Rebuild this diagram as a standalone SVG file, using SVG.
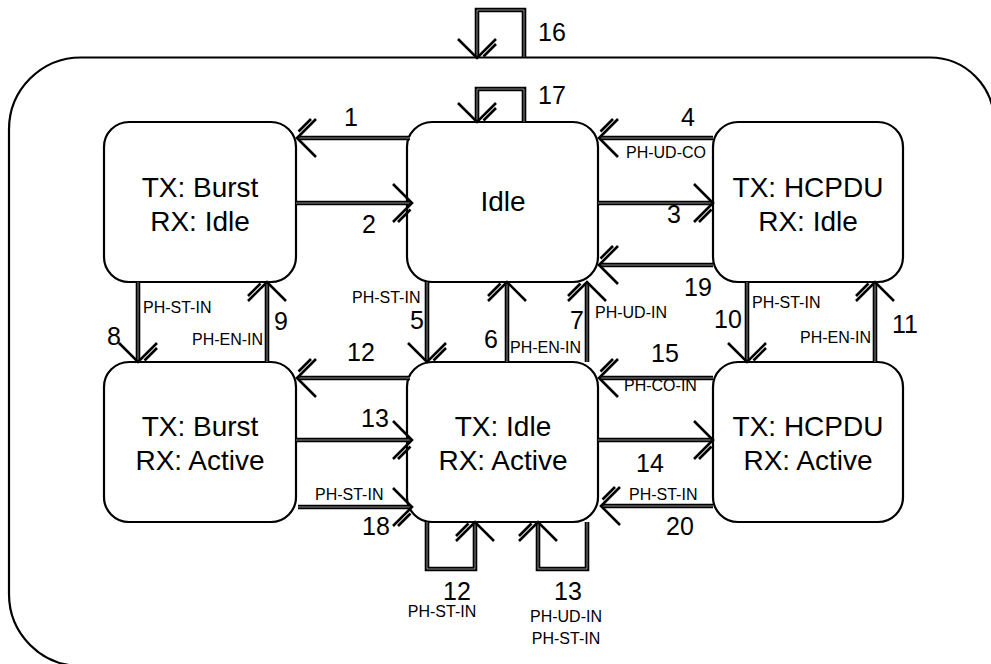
<svg xmlns="http://www.w3.org/2000/svg" xmlns:xlink="http://www.w3.org/1999/xlink" width="991" height="664" viewBox="0 0 991 664" style="overflow:hidden">
<style>
.frame{fill:none;stroke:#000;stroke-width:2.2}
.node{fill:#fff;stroke:#000;stroke-width:2.2}
.nt{font-family:"Liberation Sans",Arial,sans-serif;font-size:28px;text-anchor:middle;fill:#000}
.num{font-family:"Liberation Sans",Arial,sans-serif;font-size:25px;fill:#000}
.lbl{font-family:"Liberation Sans",Arial,sans-serif;font-size:16px;fill:#000}
.mid{text-anchor:middle}
.cb{fill:none;stroke:#000;stroke-width:4.6;stroke-linejoin:miter;stroke-linecap:butt}
.cw{fill:none;stroke:#fff;stroke-opacity:0.6;stroke-width:0.9;stroke-linejoin:miter;stroke-linecap:butt}
.ahd{fill:none;stroke:#000;stroke-width:2.6;stroke-linecap:butt;stroke-linejoin:miter}
</style>
<defs>
<clipPath id="vp"><rect x="0" y="0" width="991" height="664"/></clipPath>
<g id="ah"><path d="M-19,-19 L0,0 L-19,19"/><path d="M-1.5,6.5 L-14,19"/></g>
<g id="ahm"><path d="M-19,-19 L0,0 L-19,19"/><path d="M-1.5,-6.5 L-14,-19"/></g>
<path id="p1" d="M410,138 H299"/>
<path id="p2" d="M296,203 H410"/>
<path id="p4" d="M713,138 H601"/>
<path id="p3" d="M598,203 H711"/>
<path id="p19" d="M713,265 H601"/>
<path id="p8" d="M138,282 V360"/>
<path id="p9" d="M267,362 V284"/>
<path id="p5" d="M427,282 V360"/>
<path id="p6" d="M507,362 V284"/>
<path id="p7" d="M587,362 V284"/>
<path id="p10" d="M747,282 V360"/>
<path id="p11" d="M875,362 V284"/>
<path id="p12" d="M410,378 H299"/>
<path id="p13" d="M296,440 H410"/>
<path id="p18" d="M298,507 H410"/>
<path id="p15" d="M713,378 H601"/>
<path id="p14" d="M598,440 H711"/>
<path id="p20" d="M713,506 H603"/>
<path id="p16" d="M524,57 V10 H477 V56"/>
<path id="p17" d="M524,122 V89 H477 V120"/>
<path id="pL12" d="M427,522 V569 H475 V524"/>
<path id="pL13" d="M587,522 V569 H538 V524"/>
</defs>

<path class="frame" clip-path="url(#vp)" d="M1100,666 H81 A72,72 0 0 1 9,594 V129.5 A72,72 0 0 1 81,57.5 H930 A64,64 0 0 1 994,121.5 V700"/>

<g id="n-burst-idle"><rect class="node" x="104" y="122" width="192" height="160" rx="25"/>
<text class="nt" x="200" y="197">TX: Burst</text><text class="nt" x="200" y="231">RX: Idle</text></g>
<g id="n-idle"><rect class="node" x="407" y="122" width="191" height="160" rx="25"/>
<text class="nt" x="503" y="211">Idle</text></g>
<g id="n-hcpdu-idle"><rect class="node" x="713" y="122" width="190" height="160" rx="25"/>
<text class="nt" x="808" y="197">TX: HCPDU</text><text class="nt" x="808" y="231">RX: Idle</text></g>
<g id="n-burst-active"><rect class="node" x="104" y="362" width="192" height="160" rx="25"/>
<text class="nt" x="200" y="436">TX: Burst</text><text class="nt" x="200" y="470">RX: Active</text></g>
<g id="n-idle-active"><rect class="node" x="407" y="362" width="191" height="160" rx="25"/>
<text class="nt" x="503" y="436">TX: Idle</text><text class="nt" x="503" y="470">RX: Active</text></g>
<g id="n-hcpdu-active"><rect class="node" x="713" y="362" width="190" height="160" rx="25"/>
<text class="nt" x="808" y="436">TX: HCPDU</text><text class="nt" x="808" y="470">RX: Active</text></g>

<g id="connectors">
<g class="cb">
<use xlink:href="#p1"/><use xlink:href="#p2"/><use xlink:href="#p3"/><use xlink:href="#p4"/><use xlink:href="#p19"/>
<use xlink:href="#p8"/><use xlink:href="#p9"/><use xlink:href="#p5"/><use xlink:href="#p6"/><use xlink:href="#p7"/><use xlink:href="#p10"/><use xlink:href="#p11"/>
<use xlink:href="#p12"/><use xlink:href="#p13"/><use xlink:href="#p18"/><use xlink:href="#p15"/><use xlink:href="#p14"/><use xlink:href="#p20"/>
<use xlink:href="#p16"/><use xlink:href="#p17"/><use xlink:href="#pL12"/><use xlink:href="#pL13"/>
</g>
<g class="cw">
<use xlink:href="#p1"/><use xlink:href="#p2"/><use xlink:href="#p3"/><use xlink:href="#p4"/><use xlink:href="#p19"/>
<use xlink:href="#p8"/><use xlink:href="#p9"/><use xlink:href="#p5"/><use xlink:href="#p6"/><use xlink:href="#p7"/><use xlink:href="#p10"/><use xlink:href="#p11"/>
<use xlink:href="#p12"/><use xlink:href="#p13"/><use xlink:href="#p18"/><use xlink:href="#p15"/><use xlink:href="#p14"/><use xlink:href="#p20"/>
<use xlink:href="#p16"/><use xlink:href="#p17"/><use xlink:href="#pL12"/><use xlink:href="#pL13"/>
</g>
<g class="ahd">
<use xlink:href="#ah" transform="translate(297,138) rotate(180)"/>
<use xlink:href="#ah" transform="translate(412,203)"/>
<use xlink:href="#ah" transform="translate(599,138) rotate(180)"/>
<use xlink:href="#ah" transform="translate(713,203)"/>
<use xlink:href="#ah" transform="translate(599,265) rotate(180)"/>
<use xlink:href="#ahm" transform="translate(138,362) rotate(90)"/>
<use xlink:href="#ahm" transform="translate(267,282) rotate(-90)"/>
<use xlink:href="#ahm" transform="translate(427,362) rotate(90)"/>
<use xlink:href="#ahm" transform="translate(507,282) rotate(-90)"/>
<use xlink:href="#ahm" transform="translate(587,282) rotate(-90)"/>
<use xlink:href="#ahm" transform="translate(747,362) rotate(90)"/>
<use xlink:href="#ahm" transform="translate(875,282) rotate(-90)"/>
<use xlink:href="#ah" transform="translate(297,378) rotate(180)"/>
<use xlink:href="#ah" transform="translate(412,440)"/>
<use xlink:href="#ah" transform="translate(412,507)"/>
<use xlink:href="#ah" transform="translate(599,378) rotate(180)"/>
<use xlink:href="#ah" transform="translate(713,440)"/>
<use xlink:href="#ah" transform="translate(601,506) rotate(180)"/>
<use xlink:href="#ahm" transform="translate(477,58) rotate(90)"/>
<use xlink:href="#ahm" transform="translate(477,122) rotate(90)"/>
<use xlink:href="#ahm" transform="translate(475,522) rotate(-90)"/>
<use xlink:href="#ahm" transform="translate(538,522) rotate(-90)"/>
</g>
</g>

<g id="labels">
<text class="num" x="538" y="41">16</text>
<text class="num" x="538" y="104">17</text>
<text class="num mid" x="351" y="126">1</text>
<text class="num mid" x="369" y="233">2</text>
<text class="num mid" x="688" y="126">4</text>
<text class="lbl" x="626" y="158">PH-UD-CO</text>
<text class="num mid" x="674" y="223">3</text>
<text class="num mid" x="698" y="296">19</text>
<text class="num mid" x="114" y="345">8</text>
<text class="lbl" x="143" y="313">PH-ST-IN</text>
<text class="lbl" x="192" y="345">PH-EN-IN</text>
<text class="num mid" x="281" y="330">9</text>
<text class="lbl" x="352" y="303">PH-ST-IN</text>
<text class="num mid" x="417" y="329">5</text>
<text class="num mid" x="491" y="348">6</text>
<text class="num mid" x="577" y="329">7</text>
<text class="lbl" x="510" y="353">PH-EN-IN</text>
<text class="lbl" x="595" y="318">PH-UD-IN</text>
<text class="lbl" x="752" y="308">PH-ST-IN</text>
<text class="num mid" x="728" y="328">10</text>
<text class="lbl" x="800" y="343">PH-EN-IN</text>
<text class="num mid" x="905" y="333">11</text>
<text class="num mid" x="361" y="361">12</text>
<text class="num mid" x="665" y="362">15</text>
<text class="lbl" x="624" y="391">PH-CO-IN</text>
<text class="num mid" x="375" y="427">13</text>
<text class="num mid" x="650" y="472">14</text>
<text class="lbl" x="315" y="500">PH-ST-IN</text>
<text class="num mid" x="376" y="535">18</text>
<text class="lbl" x="629" y="500">PH-ST-IN</text>
<text class="num mid" x="680" y="535">20</text>
<text class="num mid" x="457" y="600">12</text>
<text class="lbl mid" x="442" y="617">PH-ST-IN</text>
<text class="num mid" x="568" y="600">13</text>
<text class="lbl mid" x="566" y="622">PH-UD-IN</text>
<text class="lbl mid" x="566" y="644">PH-ST-IN</text>
</g>
</svg>
